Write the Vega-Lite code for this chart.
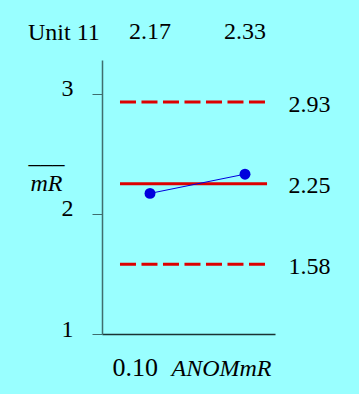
{
  "$schema": "https://vega.github.io/schema/vega-lite/v6.json",
  "width": 173,
  "height": 274,
  "autosize": {"type": "none"},
  "padding": {"left": 102, "top": 60, "right": 84, "bottom": 60},
  "background": "#99ffff",
  "config": {"view": {"stroke": null}, "font": "Liberation Serif"},
  "title": {"text": "Unit 11", "anchor": "start", "frame": "bounds", "font": "Liberation Serif", "fontSize": 24, "fontWeight": "normal", "color": "black", "dy": 29},
  "datasets": {
    "samples": [{"sample": 1, "mR": 2.17}, {"sample": 2, "mR": 2.33}],
    "limits": [
      {"limit": "UDL", "value": 2.93, "start": 0.684, "end": 2.232},
      {"limit": "Center", "value": 2.25, "start": 0.684, "end": 2.232},
      {"limit": "LDL", "value": 1.58, "start": 0.684, "end": 2.232}
    ]
  },
  "layer": [
    {
      "data": {"name": "limits"},
      "mark": {"type": "rule", "color": "#dd0000", "strokeWidth": 3},
      "encoding": {
        "x": {"field": "start", "type": "quantitative", "scale": {"domain": [0.4947, 2.3158], "nice": false, "zero": false},
          "axis": {"orient": "bottom", "domain": true, "domainColor": "#1a3333", "domainWidth": 1.5, "ticks": false, "labels": false, "grid": false,
            "title": "0.10", "titleFont": "Liberation Serif", "titleFontSize": 26, "titleFontWeight": "normal", "titleColor": "black",
            "titleAlign": "left", "titleBaseline": "alphabetic", "titleX": 10, "titleY": 41, "titleAnchor": null}},
        "x2": {"field": "end"},
        "y": {"field": "value", "type": "quantitative", "scale": {"domain": [1, 3.28], "nice": false, "zero": false},
          "axis": {"orient": "right", "values": [1.58, 2.25, 2.93], "format": ".2f", "domain": false, "ticks": false, "tickSize": 0, "grid": false, "labelPadding": 13, "labelOffset": 2,
            "labelFont": "Liberation Serif", "labelFontSize": 24, "labelColor": "black", "title": null}},
        "strokeDash": {"field": "limit", "type": "nominal", "scale": {"domain": ["UDL", "Center", "LDL"], "range": [[16, 5.5], [1, 0], [16, 5.5]]}, "legend": null}
      }
    },
    {
      "data": {"name": "samples"},
      "encoding": {
        "x": {"field": "sample", "type": "quantitative", "scale": {"domain": [0.4947, 2.3158], "nice": false, "zero": false},
          "axis": {"orient": "bottom", "domain": false, "ticks": false, "labels": false, "grid": false,
            "title": "ANOMmR", "titleFont": "Liberation Serif", "titleFontSize": 24, "titleFontWeight": "normal", "titleFontStyle": "italic", "titleColor": "black",
            "titleAlign": "left", "titleBaseline": "alphabetic", "titleX": 69, "titleY": 41}},
        "y": {"field": "mR", "type": "quantitative", "scale": {"domain": [1, 3.28], "nice": false, "zero": false},
          "axis": {"orient": "left", "values": [1, 2, 3], "domain": true, "domainColor": "#3f6e6e", "domainWidth": 1.5, "ticks": true, "tickSize": 10, "tickColor": "#3f6e6e", "grid": false,
            "labelPadding": 19, "labelOffset": -5, "labelFont": "Liberation Serif", "labelFontSize": 24, "labelColor": "black",
            "title": ["–––", "mR"], "titleAngle": 0, "titleFont": "Liberation Serif", "titleFontSize": 24, "titleFontWeight": "normal", "titleFontStyle": "italic", "titleColor": "black",
            "titleAlign": "center", "titleBaseline": "alphabetic", "titleX": -56, "titleY": 110, "titleLineHeight": 20}}
      },
      "layer": [
        {"mark": {"type": "line", "color": "#0000dd", "strokeWidth": 1}},
        {"mark": {"type": "point", "filled": true, "opacity": 1, "color": "#0000dd", "size": 120}}
      ]
    },
    {
      "data": {"name": "samples"},
      "mark": {"type": "text", "font": "Liberation Serif", "fontSize": 24, "color": "black", "align": "center", "baseline": "alphabetic"},
      "encoding": {
        "x": {"field": "sample", "type": "quantitative", "scale": {"domain": [0.4947, 2.3158], "nice": false, "zero": false}, "axis": null},
        "y": {"datum": 3.455, "type": "quantitative", "scale": {"domain": [1, 3.28], "nice": false, "zero": false}, "axis": null},
        "text": {"field": "mR", "type": "quantitative", "format": ".2f"}
      }
    }
  ],
  "resolve": {"axis": {"x": "independent", "y": "independent"}}
}
